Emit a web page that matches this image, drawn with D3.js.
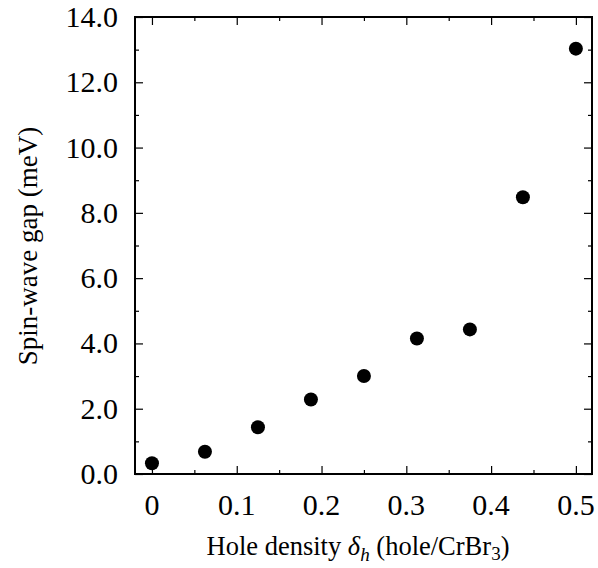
<!DOCTYPE html>
<html>
<head>
<meta charset="utf-8">
<script src="https://cdn.jsdelivr.net/npm/d3@7"></script>
<style>
  body { margin: 0; background: #fff; }
  text { font-family: "Liberation Serif", "Times New Roman", serif; fill: #000; }
</style>
</head>
<body>
<div id="chart"></div>
<script>
// hole density vs spin-wave gap
const holeDensity = [0, 0.0625, 0.125, 0.1875, 0.25, 0.3125, 0.375, 0.4375, 0.5];
const spinGap = [0.33, 0.68, 1.43, 2.28, 3.0, 4.15, 4.43, 8.48, 13.03];
const xTicks = [0, 0.1, 0.2, 0.3, 0.4, 0.5];
const xTickLabels = ["0", "0.1", "0.2", "0.3", "0.4", "0.5"];
const yTicks = [0, 2, 4, 6, 8, 10, 12, 14];

const W = 598, H = 568;
const margin = {top: 17, right: 6, bottom: 94, left: 135};
const width = W - margin.left - margin.right,
      height = H - margin.top - margin.bottom;

const svg = d3.select("#chart").append("svg")
    .attr("width", W).attr("height", H);
const g = svg.append("g")
    .attr("transform", "translate(" + margin.left + "," + margin.top + ")");

const x = d3.scaleLinear().domain([-0.02, 0.519]).range([0, width]);
const y = d3.scaleLinear().domain([0, 14]).range([height, 0]);

const xMinor = d3.range(0.05, 0.5, 0.1);
const yMinor = d3.range(1, 14, 2);

// ticks inside the frame, on all four sides
function ticks(axis, vals, size, sel) {
  axis.tickValues(vals).tickSize(size).tickFormat("");
  sel.call(axis).call(a => a.select(".domain").remove())
     .selectAll("line").attr("stroke", "#000").attr("stroke-width", 1.2);
}
ticks(d3.axisTop(x), xTicks, 8, g.append("g").attr("transform", "translate(0," + height + ")"));
ticks(d3.axisTop(x), xMinor, 4, g.append("g").attr("transform", "translate(0," + height + ")"));
ticks(d3.axisBottom(x), xTicks, 8, g.append("g"));
ticks(d3.axisBottom(x), xMinor, 4, g.append("g"));
ticks(d3.axisRight(y), yTicks, 8, g.append("g"));
ticks(d3.axisRight(y), yMinor, 4, g.append("g"));
ticks(d3.axisLeft(y), yTicks, 8, g.append("g").attr("transform", "translate(" + width + ",0)"));
ticks(d3.axisLeft(y), yMinor, 4, g.append("g").attr("transform", "translate(" + width + ",0)"));

g.append("rect")
    .attr("width", width).attr("height", height)
    .attr("fill", "none").attr("stroke", "#000").attr("stroke-width", 2);

// tick labels
g.selectAll(".xl").data(xTicks).enter().append("text")
    .attr("x", d => x(d)).attr("y", height + 41)
    .attr("text-anchor", "middle").attr("font-size", 30)
    .text((d, i) => xTickLabels[i]);
g.selectAll(".yl").data(yTicks).enter().append("text")
    .attr("x", -17).attr("y", d => y(d) + 10)
    .attr("text-anchor", "end").attr("font-size", 30)
    .text(d => d.toFixed(1));

// points
g.selectAll("circle").data(holeDensity).enter().append("circle")
    .attr("cx", d => x(d)).attr("cy", (d, i) => y(spinGap[i]))
    .attr("r", 7).attr("fill", "#000");

// axis titles
const xt = svg.append("text")
    .attr("x", 358).attr("y", 555)
    .attr("text-anchor", "middle").attr("font-size", 26.5);
xt.append("tspan").text("Hole density ");
xt.append("tspan").attr("font-style", "italic").text("δ");
xt.append("tspan").attr("font-style", "italic").attr("font-size", 19).attr("dy", 6).text("h");
xt.append("tspan").attr("dy", -6).text(" (hole/CrBr");
xt.append("tspan").attr("font-size", 19).attr("dy", 5).text("3");
xt.append("tspan").attr("dy", -5).text(")");

svg.append("text")
    .attr("transform", "translate(37,246) rotate(-90)")
    .attr("text-anchor", "middle").attr("font-size", 27)
    .text("Spin-wave gap (meV)");
</script>
</body>
</html>
